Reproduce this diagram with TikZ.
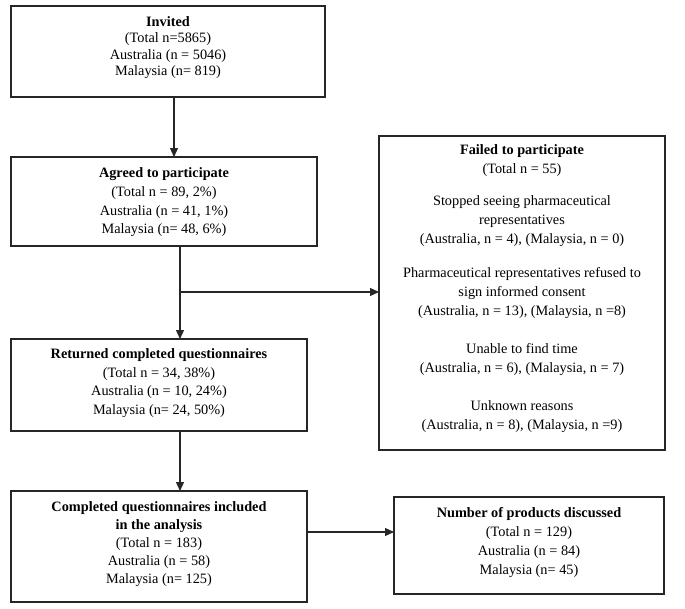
\documentclass[tikz,border=0pt]{standalone}
\usepackage{fontspec}
\setmainfont{Liberation Serif}
\usetikzlibrary{arrows.meta}
\begin{document}
\begin{tikzpicture}[x=1pt,y=-1pt,
  boxx/.style={draw=black!85, line width=1.3pt, outer sep=0pt, inner sep=0pt},
  txt/.style={align=center, font=\fontsize{14.3}{18.7}\selectfont, inner sep=0pt},
  arr/.style={draw=black!85, line width=1.2pt, -{Triangle[length=9pt,width=8pt]}},
  ln/.style={draw=black!85, line width=1.2pt}]
\useasboundingbox (0,0) rectangle (685,608);
\node[boxx, minimum width=314pt, minimum height=91pt] (b1) at (168,51.5) {};
\node[boxx, minimum width=306pt, minimum height=89pt] (b2) at (164,201.5) {};
\node[boxx, minimum width=296pt, minimum height=92pt] (b3) at (159,385) {};
\node[boxx, minimum width=286pt, minimum height=314pt] (fail) at (522,293) {};
\node[boxx, minimum width=296pt, minimum height=111pt] (b4) at (159,546.5) {};
\node[boxx, minimum width=270pt, minimum height=97pt] (b5) at (529,545.5) {};

\node[txt, font=\fontsize{14.3}{16.3}\selectfont] (t1) at ([yshift=4pt]b1.center)
  {\textbf{Invited}\\(Total n=5865)\\Australia (n = 5046)\\Malaysia (n= 819)};
\node[txt] (t2) at ([yshift=-1pt]b2.center)
  {\textbf{Agreed to participate}\\(Total n = 89, 2\%)\\Australia (n = 41, 1\%)\\Malaysia (n= 48, 6\%)};
\node[txt] (t3) at ([yshift=2pt]b3.center)
  {\textbf{Returned completed questionnaires}\\(Total n = 34, 38\%)\\Australia (n = 10, 24\%)\\Malaysia (n= 24, 50\%)};
\node[txt, font=\fontsize{14.3}{19}\selectfont] (tf) at ([yshift=4pt]fail.center)
  {\textbf{Failed to participate}\\(Total n = 55)\\[13pt]
   Stopped seeing pharmaceutical\\representatives\\(Australia, n = 4), (Malaysia, n = 0)\\[15pt]
   Pharmaceutical representatives refused to\\sign informed consent\\(Australia, n = 13), (Malaysia, n =8)\\[19pt]
   Unable to find time\\(Australia, n = 6), (Malaysia, n = 7)\\[19pt]
   Unknown reasons\\(Australia, n = 8), (Malaysia, n =9)};
\node[txt, font=\fontsize{14.3}{18}\selectfont] (t4) at ([yshift=2pt]b4.center)
  {\textbf{Completed questionnaires included}\\\textbf{in the analysis}\\(Total n = 183)\\Australia (n = 58)\\Malaysia (n= 125)};
\node[txt] (t5) at ([yshift=3pt]b5.center)
  {\textbf{Number of products discussed}\\(Total n = 129)\\Australia (n = 84)\\Malaysia (n= 45)};

\coordinate (c1) at (174,0);
\coordinate (j) at (180,292);
\coordinate (c2) at (0,532);
\draw[arr] (b1.south -| c1) -- (b2.north -| c1);
\draw[ln] (b2.south -| j) -- (j);
\draw[arr] (j) -- (b3.north -| j);
\draw[arr] (j) -- (fail.west |- j);
\draw[arr] (b3.south -| j) -- (b4.north -| j);
\draw[arr] (b4.east |- c2) -- (b5.west |- c2);
\end{tikzpicture}
\end{document}
